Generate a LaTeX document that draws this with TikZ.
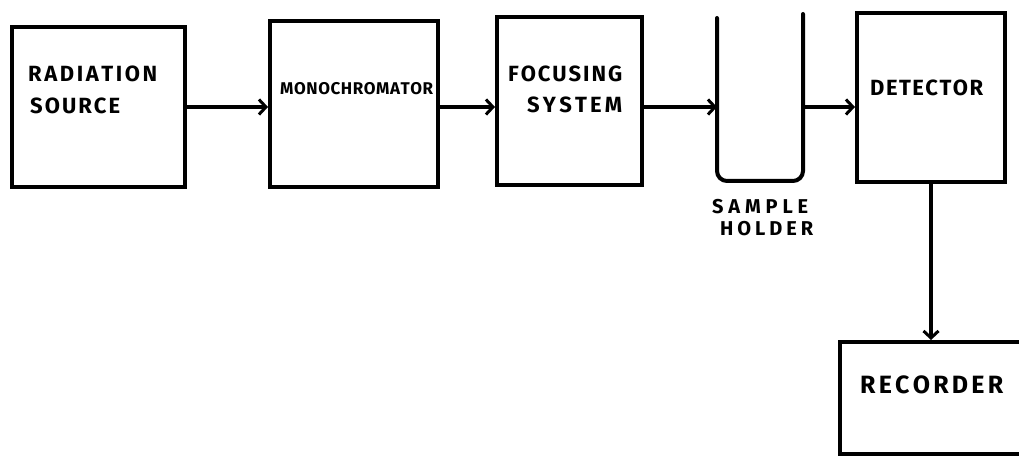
\documentclass[tikz,border=0pt]{standalone}
\usepackage{fontspec}
\setmainfont{Fira Sans}
\usetikzlibrary{arrows.meta,calc}
\makeatletter
\def\ltrspread#1{#1\futurelet\ltrnext\ltrspreadaux}
\def\ltrspreadaux{\ifx\ltrnext\relax\expandafter\@gobble\else\hfil\expandafter\ltrspread\fi}
\makeatother
\newcommand\spreadword[2]{\makebox[#1][s]{\ltrspread#2\relax}}
\tikzset{
  blockbox/.style={draw=black, line width=4pt, fill=none, inner sep=0pt},
  lbl/.style={font=\bfseries\fontsize{22}{24}\selectfont, inner sep=0pt, anchor=west},
  biglbl/.style={font=\bfseries\fontsize{25}{27}\selectfont, inner sep=0pt, anchor=west},
  midlbl/.style={font=\bfseries\fontsize{17}{19}\selectfont, inner sep=0pt, anchor=west},
  smalllbl/.style={font=\bfseries\fontsize{20}{22}\selectfont, inner sep=0pt, anchor=west},
  flow/.style={line width=4pt, -{Straight Barb[length=7pt,width=15pt,line width=3pt]}},
  holder/.style={line width=4pt, rounded corners=10pt, line cap=round}
}
\begin{document}
\begin{tikzpicture}[x=1pt,y=-1pt]
\clip (0,0) rectangle (1019,457);
\fill[white] (0,0) rectangle (1019,457);
% boxes
\node[blockbox, minimum width=173pt, minimum height=160pt] (rs) at (98.5,107) {};
\node[blockbox, minimum width=168pt, minimum height=166pt] (mono) at (354,104) {};
\node[blockbox, minimum width=145pt, minimum height=168pt] (foc) at (569.5,101) {};
\node[blockbox, minimum width=148pt, minimum height=169pt] (det) at (931,97.5) {};
\node[blockbox, minimum width=190pt, minimum height=112pt] (rec) at (935,398) {};
% sample holder
\coordinate (shL) at (717,18);
\coordinate (shR) at (803,14);
\coordinate (beam) at (0,107);
\draw[holder] (shL) -- (717,181) -- (803,181) -- (shR);
% texts
\node[lbl] (t1) at (28,74) {\spreadword{129pt}{RADIATION}};
\node[lbl] (t2) at (30,106) {\spreadword{90pt}{SOURCE}};
\node[midlbl] (t3) at (280,89) {\spreadword{153pt}{MONOCHROMATOR}};
\node[lbl] (t4) at (508,74) {\spreadword{114pt}{FOCUSING}};
\node[lbl] (t5) at (527,105) {\spreadword{95pt}{SYSTEM}};
\node[lbl] (t6) at (870,88) {\spreadword{113pt}{DETECTOR}};
\node[smalllbl] (t7) at (712,207) {\spreadword{96pt}{SAMPLE}};
\node[smalllbl] (t8) at (720,229) {\spreadword{93pt}{HOLDER}};
\node[biglbl] (t9) at (860,385) {\spreadword{143pt}{RECORDER}};
% connectors
\draw[flow] (rs.east |- beam) -- (mono.west |- beam);
\draw[flow] (mono.east |- beam) -- (foc.west |- beam);
\draw[flow] (foc.east |- beam) -- (shL |- beam);
\draw[flow] (shR |- beam) -- (det.west |- beam);
\draw[flow] (det.south) -- (rec.north -| det.south);
\end{tikzpicture}
\end{document}
